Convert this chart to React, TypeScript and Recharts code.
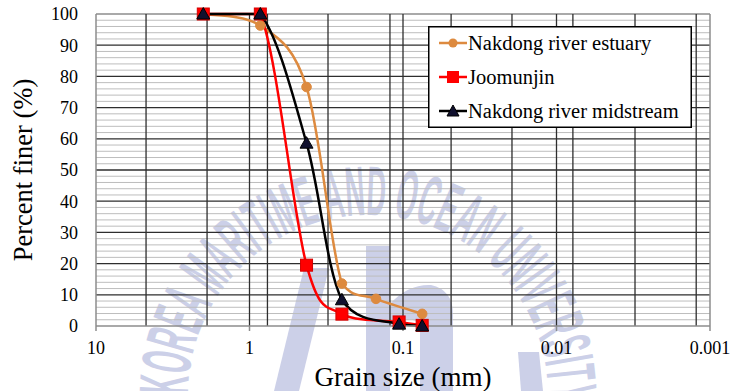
import React from "react";
import {
  LineChart,
  Line,
  XAxis,
  YAxis,
  ReferenceLine,
  Legend,
  Label,
} from "recharts";

// Grain size distribution (sieve sizes in mm, percent finer)
const sizesEstuary = [2, 0.85, 0.425, 0.25, 0.15, 0.075];
const finerEstuary = [100, 96.3, 76.6, 13.6, 8.7, 3.9];

const sizesJoomunjin = [2, 0.85, 0.425, 0.25, 0.106, 0.075];
const finerJoomunjin = [100, 100, 19.5, 3.8, 1.3, 0.2];

const sizesMidstream = [2, 0.85, 0.425, 0.25, 0.106, 0.075];
const finerMidstream = [100, 100, 58.6, 8.4, 0.6, 0];

const xTicks = [10, 1, 0.1, 0.01, 0.001];
const yTicks = [0, 10, 20, 30, 40, 50, 60, 70, 80, 90, 100];
const extraVerticalGrid = [4.72, 1.89, 0.764, 0.308, 0.1216, 0.0486, 0.0195, 0.00782, 0.00308, 0.00123];
const decadeGrid = [1, 0.1, 0.01];

const seriesNames = ["Nakdong river estuary", "Joomunjin", "Nakdong river midstream"];
const ORANGE = "#DD8A3F";
const RED = "#FF0000";
const BLACK = "#000000";

const FONT = "'Liberation Serif', 'Times New Roman', serif";

const toRows = (sizes: number[], finer: number[]) =>
  sizes.map((s, i) => ({ size: s, finer: finer[i] }));

const estuaryRows = toRows(sizesEstuary, finerEstuary);
const joomunjinRows = toRows(sizesJoomunjin, finerJoomunjin);
const midstreamRows = toRows(sizesMidstream, finerMidstream);

const minorY: number[] = [];
for (let v = 2; v < 100; v += 2) if (v % 10 !== 0) minorY.push(v);

// Smoothed curve (Catmull-Rom Bezier segments, control points kept
// within each segment's vertical range so flat runs do not bulge)
function smoothCurve(context: any) {
  let pts: number[][] = [];
  const clamp = (v: number, a: number, b: number) => Math.min(Math.max(v, Math.min(a, b)), Math.max(a, b));
  return {
    areaStart() {},
    areaEnd() {},
    lineStart() {
      pts = [];
    },
    point(x: number, y: number) {
      pts.push([+x, +y]);
    },
    lineEnd() {
      const n = pts.length;
      if (!n) return;
      context.moveTo(pts[0][0], pts[0][1]);
      for (let i = 0; i < n - 1; i++) {
        const p0 = pts[Math.max(i - 1, 0)];
        const p1 = pts[i];
        const p2 = pts[i + 1];
        const p3 = pts[Math.min(i + 2, n - 1)];
        context.bezierCurveTo(
          p1[0] + (p2[0] - p0[0]) / 6,
          clamp(p1[1] + (p2[1] - p0[1]) / 6, p1[1], p2[1]),
          p2[0] - (p3[0] - p1[0]) / 6,
          clamp(p2[1] - (p3[1] - p1[1]) / 6, p1[1], p2[1]),
          p2[0],
          p2[1]
        );
      }
    },
  };
}

const CircleDot = (props: any) => {
  const { cx, cy, index } = props;
  return <circle key={`c-${index}`} cx={cx} cy={cy} r={4.8} fill={ORANGE} stroke={ORANGE} />;
};
const SquareDot = (props: any) => {
  const { cx, cy, index } = props;
  return (
    <rect key={`s-${index}`} x={cx - 6} y={cy - 6} width={12} height={12} fill={RED} stroke="#D40000" strokeWidth={1} />
  );
};
const TriangleDot = (props: any) => {
  const { cx, cy, index } = props;
  return (
    <polygon
      key={`t-${index}`}
      points={`${cx},${cy - 6.5} ${cx + 6.5},${cy + 5} ${cx - 6.5},${cy + 5}`}
      fill="#10102E"
      stroke={BLACK}
      strokeWidth={1}
    />
  );
};

const legendMarkers = [
  (x: number, y: number) => <circle cx={x} cy={y} r={4.5} fill={ORANGE} />,
  (x: number, y: number) => <rect x={x - 6} y={y - 6} width={12} height={12} fill={RED} />,
  (x: number, y: number) => (
    <polygon points={`${x},${y - 6} ${x + 6},${y + 5} ${x - 6},${y + 5}`} fill="#10102E" stroke={BLACK} />
  ),
];
const legendColors = [ORANGE, RED, BLACK];

const renderLegend = () => (
  <svg width={264} height={102} style={{ display: "block" }}>
    <rect x={0.75} y={0.75} width={262.5} height={100.5} fill="#fff" stroke="#000" strokeWidth={1.5} />
    {seriesNames.map((name, i) => {
      const cy = 17 + i * 34;
      return (
        <g key={name}>
          <line x1={11} x2={39} y1={cy} y2={cy} stroke={legendColors[i]} strokeWidth={2.5} />
          {legendMarkers[i](25, cy)}
          <text x={40} y={cy} dy="0.35em" fontFamily={FONT} fontSize={20.5} fill="#000">
            {name}
          </text>
        </g>
      );
    })}
  </svg>
);

const XTitle = (props: any) => {
  const vb = props.viewBox || { x: 96, y: 326, width: 614 };
  return (
    <text x={vb.x + vb.width / 2} y={386} textAnchor="middle" fontFamily={FONT} fontSize={27} fill="#000">
      Grain size (mm)
    </text>
  );
};

const YTitle = (props: any) => {
  const vb = props.viewBox || { x: 0, y: 14, height: 312 };
  const cx = 23;
  const cy = vb.y + vb.height / 2;
  return (
    <text
      x={cx}
      y={cy}
      transform={`rotate(-90, ${cx}, ${cy})`}
      textAnchor="middle"
      dominantBaseline="central"
      fontFamily={FONT}
      fontSize={26.5}
      fill="#000"
    >
      Percent finer (%)
    </text>
  );
};

const WM = "#ccd0e8";

// University watermark drawn behind the chart
const Watermark = () => (
  <svg width={732} height={391} style={{ position: "absolute", left: 0, top: 0 }}>
    <defs>
      <path id="wmArc" d="M 188 395.1 A 180 180 0 1 1 548 395.1" />
    </defs>
    <text
      fontFamily="'Liberation Sans Narrow', 'Liberation Sans', Arial, sans-serif"
      fontWeight="bold"
      fontSize={70}
      fill={WM}
    >
      <textPath href="#wmArc" textLength={572} lengthAdjust="spacingAndGlyphs">
        KOREA MARITIME AND OCEAN UNIVERSITY
      </textPath>
    </text>
    <polygon points="304,268 329,268 299,391 274,391" fill={WM} />
    <path
      d="M 366 391 V 246 H 390 V 304 Q 408 284 431 285 Q 453 290 453 314 V 391 H 420 V 324 Q 410 314 390 328 V 391 Z"
      fill={WM}
    />
    <polygon points="518,352 539,352 543,391 521,391" fill={WM} />
  </svg>
);

export default function App() {
  return (
    <div style={{ position: "absolute", left: 0, top: 0, width: 732, height: 391, background: "#fff" }}>
      <Watermark />
      <div style={{ position: "absolute", left: 0, top: 0 }}>
        <LineChart width={732} height={391} margin={{ top: 14, right: 22, bottom: 0, left: 0 }}>
          <XAxis
            type="number"
            dataKey="size"
            scale="log"
            domain={[0.001, 10]}
            reversed
            ticks={xTicks}
            interval={0}
            allowDataOverflow
            tickFormatter={(v: number) => String(v)}
            height={65}
            tickSize={5}
            tickMargin={10}
            axisLine={{ stroke: "#8c8c8c", strokeWidth: 1.5 }}
            tickLine={{ stroke: "#8c8c8c", strokeWidth: 1.5 }}
            tick={{ fontFamily: FONT, fontSize: 18, fill: "#000" }}
          >
            <Label content={XTitle} />
          </XAxis>
          <YAxis
            type="number"
            domain={[0, 100]}
            ticks={yTicks}
            interval={0}
            width={96}
            tickLine={false}
            tickSize={6}
            tickMargin={12}
            axisLine={{ stroke: "#8c8c8c", strokeWidth: 1.5 }}
            tick={{ fontFamily: FONT, fontSize: 18, fill: "#000" }}
          >
            <Label content={YTitle} />
          </YAxis>

          {minorY.map((v) => (
            <ReferenceLine key={`my-${v}`} y={v} stroke="#bdbdbd" strokeWidth={1} />
          ))}
          {yTicks
            .filter((v) => v > 0 && v < 100)
            .map((v) => (
              <ReferenceLine key={`My-${v}`} y={v} stroke="#2e2e2e" strokeWidth={1.3} />
            ))}
          <ReferenceLine y={100} stroke="#8c8c8c" strokeWidth={1.5} />
          {extraVerticalGrid.map((v) => (
            <ReferenceLine key={`ev-${v}`} x={v} stroke="#2e2e2e" strokeWidth={1.3} />
          ))}
          {decadeGrid.map((v) => (
            <ReferenceLine key={`dv-${v}`} x={v} stroke="#2e2e2e" strokeWidth={1.3} />
          ))}
          <ReferenceLine x={0.001} stroke="#8c8c8c" strokeWidth={1.5} />

          <Line
            data={estuaryRows}
            dataKey="finer"
            name={seriesNames[0]}
            type={smoothCurve as any}
            stroke={ORANGE}
            strokeWidth={2.5}
            dot={CircleDot}
            activeDot={false}
            isAnimationActive={false}
          />
          <Line
            data={joomunjinRows}
            dataKey="finer"
            name={seriesNames[1]}
            type={smoothCurve as any}
            stroke={RED}
            strokeWidth={2.5}
            dot={SquareDot}
            activeDot={false}
            isAnimationActive={false}
          />
          <Line
            data={midstreamRows}
            dataKey="finer"
            name={seriesNames[2]}
            type={smoothCurve as any}
            stroke={BLACK}
            strokeWidth={2.5}
            dot={TriangleDot}
            activeDot={false}
            isAnimationActive={false}
          />
          <Legend
            layout="horizontal"
            verticalAlign="middle"
            align="center"
            content={renderLegend}
            wrapperStyle={{ position: "absolute", left: 428, top: 26, width: 264, height: 102 }}
          />
        </LineChart>
      </div>
    </div>
  );
}
